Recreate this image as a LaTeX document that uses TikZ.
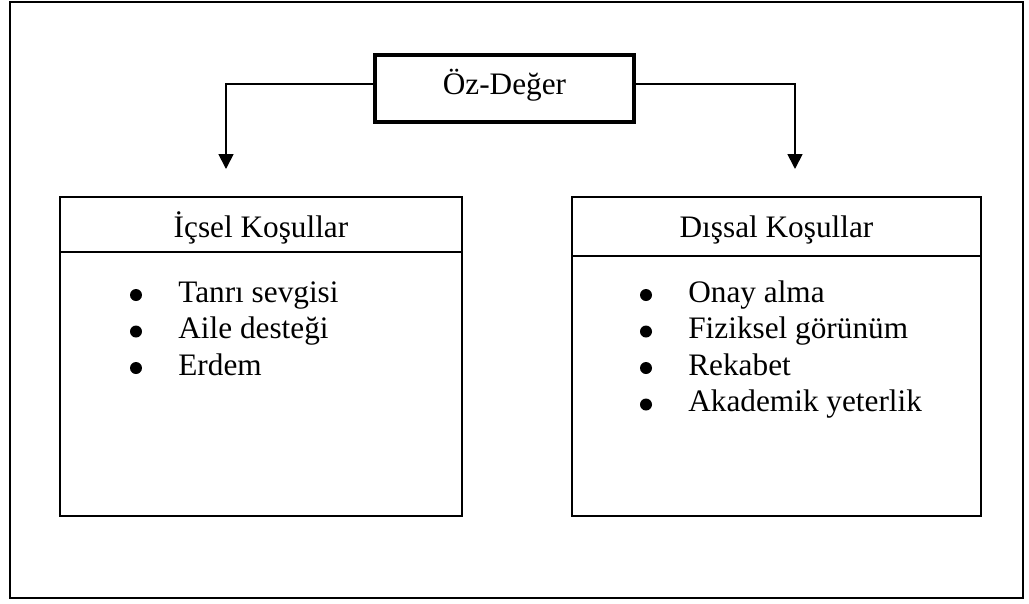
\documentclass[tikz,border=0pt]{standalone}
\usepackage{fontspec}
\setmainfont{Liberation Serif}
\usetikzlibrary{arrows.meta}
\tikzset{
  kutu/.style={draw,line width=1pt,inner sep=0pt},
  anakutu/.style={draw,line width=2.8pt,inner sep=0pt,text height=0.9em,text depth=0.22em},
  ok/.style={line width=1pt,-{Triangle[length=0.3cm,width=0.3cm]}},
  nokta/.style={circle,fill,inner sep=0pt,minimum size=0.24cm},
  madde/.style={anchor=base west,inner sep=0pt},
}
\begin{document}
\begin{tikzpicture}[x=0.02cm,y=-0.02cm,font=\fontsize{17.8pt}{21pt}\selectfont]
   \useasboundingbox (0,0) rectangle (1029,603);
   \node[kutu,minimum width=20.26cm,minimum height=11.92cm] (cerceve) at (516.5,300) {};

   \node[anakutu,minimum width=5.18cm,minimum height=1.34cm] (oz) at (504.5,88.5) {Öz-Değer};
   \coordinate (solUc) at (226,169);
   \coordinate (sagUc) at (795,169);
   \draw[ok] ([yshift=0.09cm]oz.west) -| (solUc);
   \draw[ok] ([yshift=0.09cm]oz.east) -| (sagUc);

   \node[kutu,minimum width=8.04cm,minimum height=6.38cm] (icsel) at (261,356.5) {};
   \node[kutu,minimum width=8.18cm,minimum height=6.38cm] (dissal) at (776.5,356.5) {};
   \draw[line width=1.2pt] ([yshift=-1.12cm]icsel.north west) -- ([yshift=-1.12cm]icsel.north east);
   \draw[line width=1.2pt] ([yshift=-1.2cm]dissal.north west) -- ([yshift=-1.2cm]dissal.north east);
   \node[anchor=base] (icselbaslik) at (261,237) {İçsel Koşullar};
   \node[anchor=base] (dissalbaslik) at (776.5,237) {Dışsal Koşullar};

   \foreach \m [count=\i] in {Tanrı sevgisi, Aile desteği, Erdem}{
     \node[nokta] (solnokta\i) at (136,{295+36.5*(\i-1)}) {};
     \node[madde] (sol\i) at (178,{302+36.5*(\i-1)}) {\m};
   }
   \foreach \m [count=\i] in {Onay alma, Fiziksel görünüm, Rekabet, Akademik yeterlik}{
     \node[nokta] (sagnokta\i) at (646,{295+36.5*(\i-1)}) {};
     \node[madde] (sag\i) at (688,{302+36.5*(\i-1)}) {\m};
   }
\end{tikzpicture}
\end{document}
